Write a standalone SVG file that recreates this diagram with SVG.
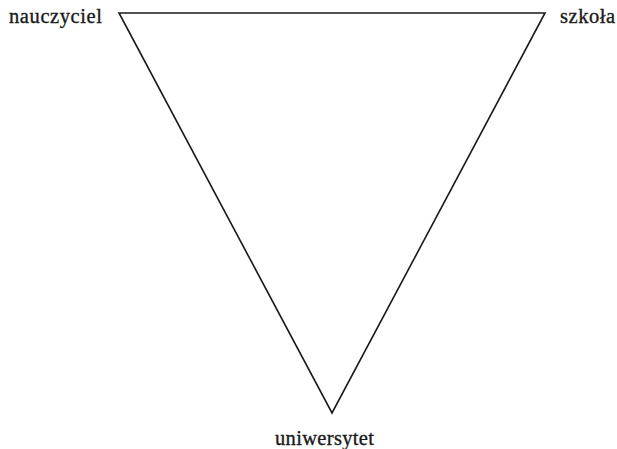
<svg xmlns="http://www.w3.org/2000/svg" width="617" height="449" viewBox="0 0 617 449">
<style>
.lbl{font-family:"Liberation Serif","Times New Roman",serif;font-size:20.5px;fill:#1a1a1a;stroke:#1a1a1a;stroke-width:0.35}
.edge{stroke:#1a1a1a;stroke-width:1.6;fill:none;stroke-linejoin:miter}
</style>
<rect width="617" height="449" fill="#ffffff"/>
<g id="connectors">
<polygon class="edge" points="119,13 545,13 332,413"/>
</g>
<g id="node-nauczyciel"><text class="lbl" x="9" y="23" textLength="93" lengthAdjust="spacing">nauczyciel</text></g>
<g id="node-szkola"><text class="lbl" x="560" y="23" textLength="55" lengthAdjust="spacing">szkoła</text></g>
<g id="node-uniwersytet"><text class="lbl" x="275" y="445" textLength="99" lengthAdjust="spacing">uniwersytet</text></g>
</svg>
